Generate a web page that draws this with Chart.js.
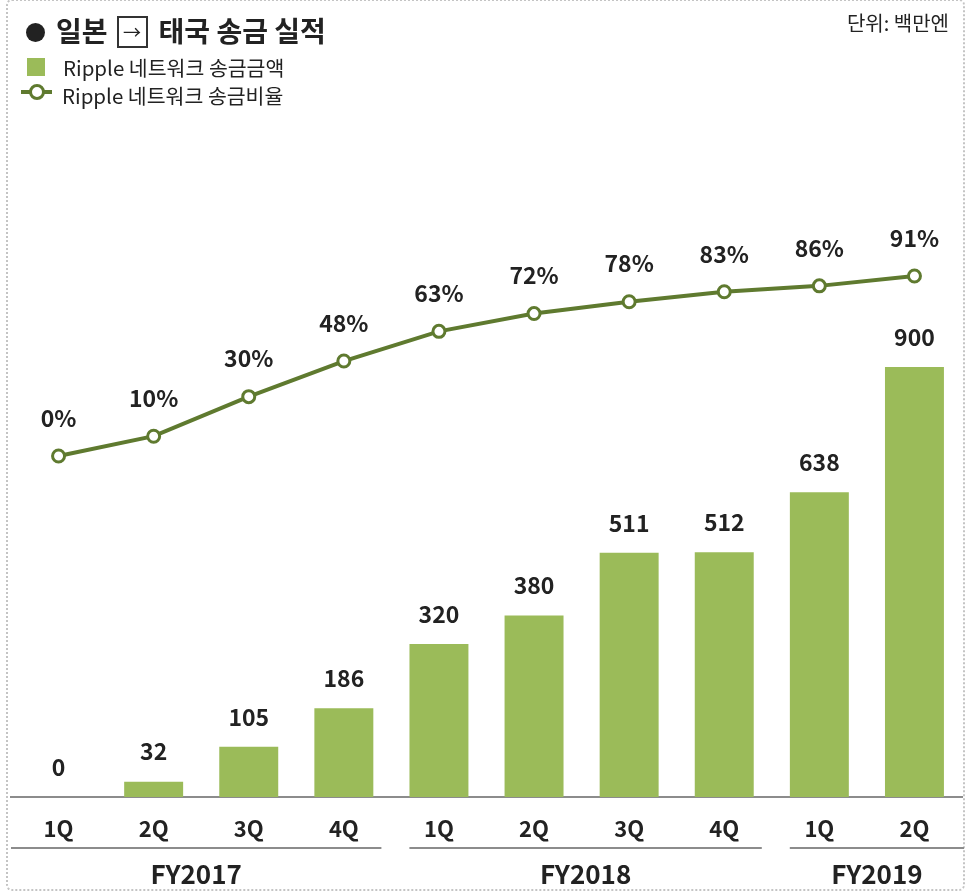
<!DOCTYPE html>
<html>
<head>
<meta charset="utf-8">
<script src="https://cdn.jsdelivr.net/npm/chart.js@4/dist/chart.umd.min.js"></script>
<style>
  html, body { margin:0; padding:0; background:#fff; }
  body { width:971px; height:893px; position:relative; overflow:hidden;
         font-family:"Noto Sans CJK KR","Noto Sans",sans-serif; color:#222; }
  #frame { position:absolute; left:6px; top:-1px; width:959px; height:892px;
           border:2px dotted #c4c4c4; border-radius:6px; box-sizing:border-box; }
  #chart { position:absolute; left:0; top:0; }
  .abs { position:absolute; white-space:nowrap; }
  #title { left:26px; top:11px; font-size:28px; font-weight:700; line-height:38px; }
  #title .dot { display:inline-block; width:19px; height:19px; border-radius:50%; background:#222;
                vertical-align:middle; margin-right:11px; position:relative; top:-2px; }
  #title .box { display:inline-block; width:27px; height:28px; border:2px solid #333; text-align:center;
                font-size:18px; line-height:26px; font-weight:400; vertical-align:middle;
                margin:0 11px 0 9px; position:relative; top:-2px; }
  #unit { right:22px; top:8px; font-size:20px; }
  .lg { font-size:20.5px; line-height:26px; }
  .sq { left:27px; top:58px; width:18px; height:18px; background:#9bbb59; }
  .ln { left:21px; top:90px; width:31px; height:4px; background:#5f7a2f; }
  .cir { left:29px; top:84px; width:10px; height:10px; border:3px solid #5f7a2f; border-radius:50%; background:#fff; }
</style>
</head>
<body>
<div id="frame"></div>
<canvas id="chart" width="971" height="893"></canvas>
<div id="title" class="abs"><span class="dot"></span>일본<span class="box">→</span>태국 송금 실적</div>
<div id="unit" class="abs">단위: 백만엔</div>
<div class="abs sq"></div>
<div class="abs lg" style="left:63px;top:54px">Ripple 네트워크 송금금액</div>
<div class="abs ln"></div>
<div class="abs cir"></div>
<div class="abs lg" style="left:62px;top:82px">Ripple 네트워크 송금비율</div>
<script>
const quarters = ['1Q','2Q','3Q','4Q','1Q','2Q','3Q','4Q','1Q','2Q'];
const amounts = [0, 32, 105, 186, 320, 380, 511, 512, 638, 900];
const ratios = [0, 10, 30, 48, 63, 72, 78, 83, 86, 91];
const years = [
  {label:'FY2017', from:0, to:3},
  {label:'FY2018', from:4, to:7},
  {label:'FY2019', from:8, to:9}
];

const barColor = '#9bbb59';
const lineColor = '#5f7a2f';
const labelFont = '700 23px "Noto Sans CJK KR", sans-serif';

const valueLabels = {
  id: 'valueLabels',
  afterDatasetsDraw(chart) {
    const ctx = chart.ctx;
    ctx.save();
    ctx.font = labelFont;
    ctx.fillStyle = '#222';
    ctx.textAlign = 'center';
    ctx.textBaseline = 'middle';
    chart.getDatasetMeta(1).data.forEach((el, i) => {
      ctx.fillText(amounts[i], el.x, el.y - 30);
    });
    chart.getDatasetMeta(0).data.forEach((el, i) => {
      ctx.fillText(ratios[i] + '%', el.x, el.y - 38);
    });
    ctx.restore();
  }
};

// year brackets under the quarter ticks
const yearGroups = {
  id: 'yearGroups',
  afterDraw(chart) {
    const ctx = chart.ctx;
    const x = chart.scales.x;
    const half = (x.getPixelForValue(1) - x.getPixelForValue(0)) / 2;
    const lineY = chart.chartArea.bottom + 51;
    ctx.save();
    ctx.strokeStyle = '#8c8c8c';
    ctx.lineWidth = 2;
    ctx.font = '700 26px "Noto Sans CJK KR", sans-serif';
    ctx.fillStyle = '#222';
    ctx.textAlign = 'center';
    ctx.textBaseline = 'middle';
    years.forEach((g, k) => {
      let a = x.getPixelForValue(g.from) - half + (k ? 18 : 0);
      let b = x.getPixelForValue(g.to) + half - (k < years.length - 1 ? 10 : -2);
      ctx.beginPath();
      ctx.moveTo(a, lineY);
      ctx.lineTo(b, lineY);
      ctx.stroke();
      ctx.fillText(g.label, (a + b) / 2, lineY + 26);
    });
    ctx.restore();
  }
};

new Chart(document.getElementById('chart'), {
  data: {
    labels: quarters,
    datasets: [
      {
        type: 'line', data: ratios, yAxisID: 'y2',
        borderColor: lineColor, borderWidth: 4,
        pointRadius: 6, pointBorderWidth: 3,
        pointBackgroundColor: '#fff', pointBorderColor: lineColor,
        tension: 0, order: 0
      },
      {
        type: 'bar', data: amounts, yAxisID: 'y',
        backgroundColor: barColor, categoryPercentage: 1, barPercentage: 0.62, order: 1
      }
    ]
  },
  options: {
    responsive: false,
    animation: false,
    layout: { padding: { top: 130, left: 11, right: 8, bottom: 0 } },
    plugins: { legend: { display: false }, tooltip: { enabled: false } },
    scales: {
      x: {
        grid: { display: false, drawTicks: false },
        border: { color: '#8c8c8c', width: 2 },
        ticks: { color: '#222', font: { family: '"Noto Sans CJK KR", sans-serif', size: 22, weight: '700' }, padding: 18 },
        afterFit(scale) { scale.height = 96; }
      },
      y: { display: false, min: 0, max: 1396 },
      y2: { display: false, min: -172.4, max: 164.8 }
    }
  },
  plugins: [valueLabels, yearGroups]
});
</script>
</body>
</html>
